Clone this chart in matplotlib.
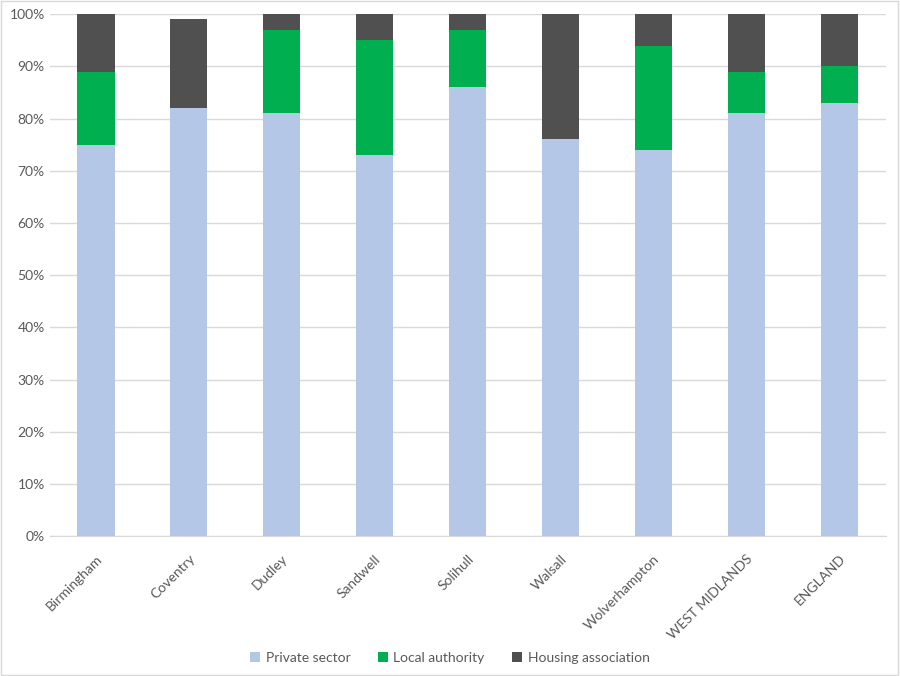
import matplotlib
matplotlib.use("Agg")
import matplotlib.pyplot as plt
from matplotlib.ticker import PercentFormatter
import numpy as np

areas = ['Birmingham', 'Coventry', 'Dudley', 'Sandwell', 'Solihull',
         'Walsall', 'Wolverhampton', 'WEST MIDLANDS', 'ENGLAND']
private_sector = [75, 82, 81, 73, 86, 76, 74, 81, 83]
local_authority = [14, 0, 16, 22, 11, 0, 20, 8, 7]
housing_assoc = [11, 17, 3, 5, 3, 24, 6, 11, 10]

plt.rcParams['font.family'] = ['Lato', 'DejaVu Sans']
text_col = '#595959'

fig = plt.figure(figsize=(9, 6.76), dpi=100)
ax = fig.add_axes([0.055, 0.207, 0.929, 0.772])

x = np.arange(len(areas))
w = 0.4
p = np.array(private_sector)
la = np.array(local_authority)
ha = np.array(housing_assoc)
ax.bar(x, p, w, color='#B4C7E7', label='Private sector', zorder=2)
ax.bar(x, la, w, bottom=p, color='#00B050', label='Local authority', zorder=2)
ax.bar(x, ha, w, bottom=p + la, color='#505050', label='Housing association', zorder=2)

ax.set_xlim(-0.5, len(areas) - 0.5)
ax.set_ylim(0, 100)
ax.set_yticks(range(0, 101, 10))
ax.yaxis.set_major_formatter(PercentFormatter(decimals=0))
ax.grid(axis='y', color='#D9D9D9', linewidth=1, zorder=0)
for s in ['top', 'right', 'left']:
    ax.spines[s].set_visible(False)
ax.spines['bottom'].set_color('#D9D9D9')
ax.tick_params(length=0, colors=text_col, labelsize=10)
ax.set_xticks(x)
ax.set_xticklabels(areas, rotation=45, ha='right', rotation_mode='anchor')
ax.tick_params(axis='x', pad=12)

fig.legend(loc='lower center', bbox_to_anchor=(0.5, 0.0), ncol=3, frameon=False,
           fontsize=10, handlelength=0.7, handleheight=0.7, handletextpad=0.4,
           columnspacing=2.0, labelcolor=text_col)

fig.patches.append(plt.Rectangle((0.001, 0.001), 0.997, 0.997, transform=fig.transFigure,
                                 fill=False, edgecolor='#D9D9D9', linewidth=1))

fig.savefig('out.png', dpi=100, facecolor='white')
